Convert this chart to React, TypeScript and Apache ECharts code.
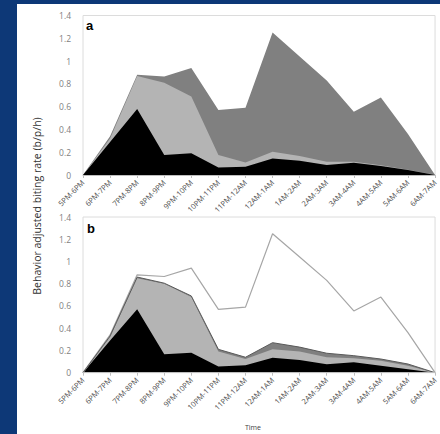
import React, { useEffect, useRef } from "react";
import * as echarts from "echarts";

const categories = [
  "5PM-6PM", "6PM-7PM", "7PM-8PM", "8PM-9PM", "9PM-10PM", "10PM-11PM", "11PM-12AM",
  "12AM-1AM", "1AM-2AM", "2AM-3AM", "3AM-4AM", "4AM-5AM", "5AM-6AM", "6AM-7AM",
];

const yTicks = { min: 0, max: 1.4, interval: 0.2 };

// Panel a
const totalA = [0, 0.34, 0.88, 0.865, 0.94, 0.57, 0.59, 1.25, 1.04, 0.83, 0.555, 0.68, 0.36, 0];
const lightA = [0, 0.32, 0.87, 0.81, 0.69, 0.176, 0.11, 0.205, 0.167, 0.117, 0.117, 0.085, 0.045, 0];
const blackA = [0, 0.29, 0.58, 0.176, 0.19, 0.065, 0.073, 0.144, 0.126, 0.088, 0.108, 0.079, 0.044, 0];

// Panel b
const totalB = [0, 0.34, 0.88, 0.865, 0.94, 0.57, 0.59, 1.25, 1.04, 0.83, 0.555, 0.68, 0.36, 0];
const darkB = [0, 0.33, 0.86, 0.805, 0.69, 0.21, 0.139, 0.27, 0.23, 0.175, 0.153, 0.123, 0.078, 0];
const lightB = [0, 0.32, 0.85, 0.8, 0.68, 0.19, 0.123, 0.21, 0.19, 0.139, 0.13, 0.108, 0.063, 0];
const blackB = [0, 0.29, 0.57, 0.166, 0.18, 0.055, 0.066, 0.135, 0.114, 0.075, 0.093, 0.063, 0.03, 0];

const FONT = "'Open Sans', 'Noto Sans', sans-serif";

function area(data: number[], gi: number, fill: string, line?: string, lw = 0) {
  return {
    type: "line",
    xAxisIndex: gi,
    yAxisIndex: gi,
    data,
    symbol: "none",
    silent: true,
    lineStyle: { color: line || fill, width: lw },
    areaStyle: { color: fill, opacity: 1 },
  };
}

export default function App() {
  const ref = useRef<HTMLDivElement>(null);
  useEffect(() => {
    if (!ref.current) return;
    const chart = echarts.init(ref.current, null, { renderer: "svg" });
    const xAxis = (gi: number) => ({
      type: "category",
      gridIndex: gi,
      data: categories,
      boundaryGap: false,
      axisLine: { lineStyle: { color: "#bfbfbf", width: 1 } },
      axisTick: { show: true, length: 3, lineStyle: { color: "#bfbfbf" } },
      axisLabel: {
        rotate: 45,
        interval: 0,
        fontSize: 7.5,
        color: "#4d4d4d",
        margin: 6,
        fontFamily: FONT,
      },
      z: 5,
    });
    const yAxis = (gi: number) => ({
      type: "value",
      gridIndex: gi,
      min: yTicks.min,
      max: yTicks.max,
      interval: yTicks.interval,
      splitLine: { show: false },
      axisLine: { show: false },
      axisTick: { show: false },
      axisLabel: { fontSize: 8.5, color: "#7f7f7f", margin: 12, fontFamily: FONT },
    });
    chart.setOption({
      animation: false,
      backgroundColor: "transparent",
      grid: [
        { left: 83, top: 15.5, width: 357.5, height: 159.5, show: true, borderColor: "#dcdcdc", borderWidth: 1 },
        { left: 83, top: 217, width: 357.5, height: 155.7, show: true, borderColor: "#dcdcdc", borderWidth: 1 },
      ],
      xAxis: [xAxis(0), xAxis(1)],
      yAxis: [yAxis(0), yAxis(1)],
      series: [
        area(totalA, 0, "#808080"),
        area(lightA, 0, "#b4b4b4"),
        area(blackA, 0, "#000000"),
        area(totalB, 1, "#ffffff", "#a6a6a6", 1.2),
        area(darkB, 1, "#7f7f7f", "#595959", 1),
        area(lightB, 1, "#b4b4b4"),
        area(blackB, 1, "#000000"),
      ],
      graphic: [
        {
          type: "text",
          left: 86,
          top: 19,
          style: { text: "a", fill: "#000", font: "bold 13px 'Liberation Sans', Arial, sans-serif" },
        },
        {
          type: "text",
          left: 87,
          top: 222,
          style: { text: "b", fill: "#000", font: "bold 13px 'Liberation Sans', Arial, sans-serif" },
        },
        {
          type: "text",
          x: 37,
          y: 206,
          rotation: Math.PI / 2,
          style: {
            text: "Behavior adjusted biting rate (b/p/h)",
            fill: "#333333",
            font: `10.5px ${FONT}`,
            align: "center",
            verticalAlign: "middle",
          },
        },
        {
          type: "text",
          x: 245,
          y: 424,
          style: { text: "Time", fill: "#404040", font: `7px ${FONT}` },
        },
      ],
    });
    return () => chart.dispose();
  }, []);
  return (
    <div style={{ position: "fixed", left: 0, top: 0, width: 440, height: 434, background: "#0d3877", overflow: "hidden" }}>
      <div style={{ position: "absolute", left: 17, top: 4, right: 0, bottom: 0, background: "#ffffff" }} />
      <div ref={ref} style={{ position: "absolute", left: 0, top: 0, width: 440, height: 434 }} />
    </div>
  );
}
